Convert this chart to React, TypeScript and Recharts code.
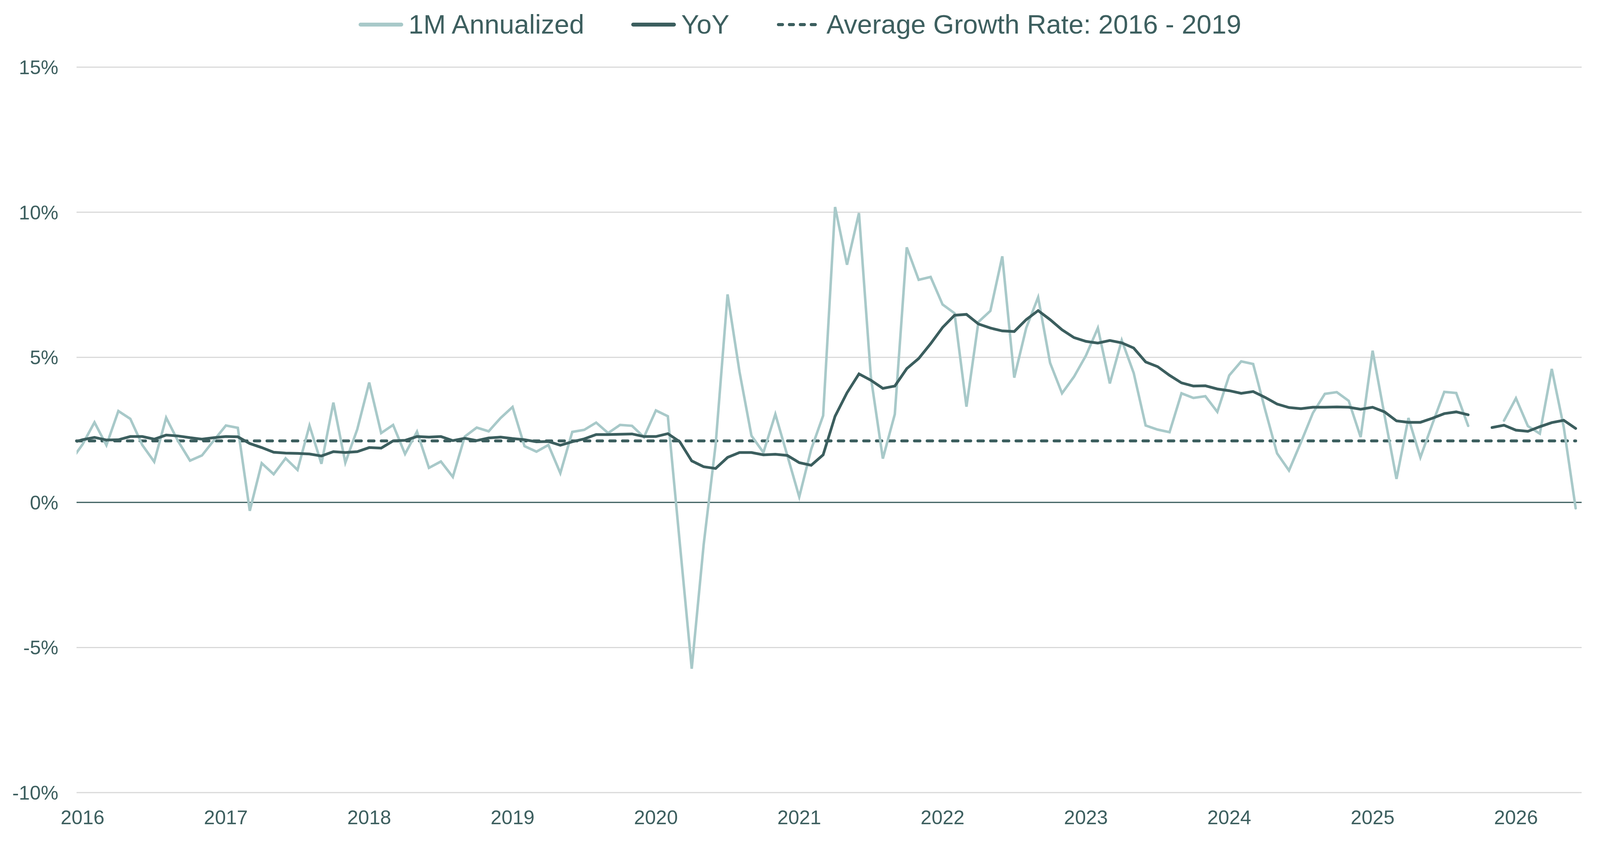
import React from "react";
import { LineChart, Line, XAxis, YAxis, CartesianGrid, ReferenceLine, Legend } from "recharts";

// Monthly series, Dec 2015 (index -1, clipped at the left edge) through Jun 2026 (index 125)
const firstIndex = -1;

const annualized1M: (number | null)[] = [
  1.42,
  2.0, 2.76, 1.97, 3.15, 2.88, 1.98, 1.4, 2.92, 2.11, 1.44, 1.62, 2.14,
  2.65, 2.57, -0.29, 1.35, 0.97, 1.52, 1.12, 2.65, 1.33, 3.44, 1.37, 2.52,
  4.13, 2.39, 2.67, 1.67, 2.44, 1.19, 1.41, 0.88, 2.27, 2.58, 2.45, 2.91,
  3.29, 1.94, 1.75, 1.98, 1.01, 2.43, 2.5, 2.75, 2.39, 2.67, 2.64, 2.25,
  3.17, 2.97, -1.4, -5.73, -1.45, 1.99, 7.17, 4.5, 2.3, 1.72, 3.04, 1.62,
  0.19, 1.83, 2.99, 10.18, 8.19, 9.97, 4.31, 1.51, 3.04, 8.79, 7.67, 7.77,
  6.82, 6.52, 3.3, 6.22, 6.6, 8.48, 4.3, 6.01, 7.07, 4.81, 3.76, 4.33,
  5.06, 6.01, 4.1, 5.59, 4.46, 2.65, 2.51, 2.42, 3.76, 3.6, 3.66, 3.12,
  4.38, 4.86, 4.77, 3.2, 1.69, 1.1, 2.07, 3.08, 3.74, 3.8, 3.5, 2.25,
  5.23, 3.0, 0.81, 2.91, 1.55, 2.7, 3.81, 3.77, 2.64, null, null, 2.82,
  3.59, 2.63, 2.37, 4.6, 2.6, -0.2,
];

const yoy: (number | null)[] = [
  2.04,
  2.16, 2.24, 2.15, 2.16, 2.27, 2.27, 2.18, 2.32, 2.29, 2.23, 2.18, 2.23,
  2.27, 2.26, 2.03, 1.89, 1.73, 1.7, 1.69, 1.67, 1.6, 1.75, 1.72, 1.75,
  1.89, 1.87, 2.12, 2.14, 2.27, 2.25, 2.27, 2.13, 2.21, 2.13, 2.22, 2.25,
  2.2, 2.16, 2.09, 2.1, 1.97, 2.09, 2.19, 2.34, 2.34, 2.35, 2.36, 2.27,
  2.27, 2.37, 2.09, 1.43, 1.23, 1.17, 1.55, 1.72, 1.72, 1.64, 1.66, 1.62,
  1.37, 1.28, 1.64, 2.97, 3.78, 4.43, 4.21, 3.93, 4.01, 4.61, 4.96, 5.47,
  6.03, 6.45, 6.48, 6.15, 6.01, 5.91, 5.89, 6.3, 6.61, 6.3, 5.95, 5.68,
  5.55, 5.49, 5.58, 5.5, 5.32, 4.84, 4.68, 4.38, 4.12, 4.01, 4.02, 3.91,
  3.85, 3.76, 3.82, 3.62, 3.39, 3.27, 3.23, 3.28, 3.28, 3.29, 3.28, 3.21,
  3.28, 3.12, 2.81, 2.76, 2.76, 2.9, 3.06, 3.12, 3.02, null, 2.58, 2.66,
  2.49, 2.45, 2.61, 2.75, 2.83, 2.55,
];

const avgGrowth = 2.12;

const yearTicks = [2016, 2017, 2018, 2019, 2020, 2021, 2022, 2023, 2024, 2025, 2026];
const yTicks = [-10, -5, 0, 5, 10, 15];

const LIGHT = "#a8c9c9";
const DARK = "#3b5e5e";
const TEXT = "#3d5f5f";
const FONT = "'Liberation Sans', Arial, sans-serif";

const chartData = annualized1M.map((v, k) => ({
  idx: firstIndex + k,
  m1: v,
  yoy: yoy[k],
}));

const legendItems = [
  { label: "1M Annualized", color: LIGHT, dash: undefined },
  { label: "YoY", color: DARK, dash: undefined },
  { label: "Average Growth Rate: 2016 - 2019", color: DARK, dash: "10 18" },
];

// the design is laid out for 4301 x 2154; fit it to the real viewport
const W = typeof window !== "undefined" ? window.innerWidth || 4301 : 4301;
const H = typeof window !== "undefined" ? window.innerHeight || 2154 : 2154;
const kx = W / 4301;
const ky = H / 2154;
const kf = Math.min(kx, ky);

const LegendContent = () => (
  <div
    style={{
      width: W,
      height: Math.round(172 * ky),
      display: "flex",
      justifyContent: "center",
      alignItems: "flex-start",
      paddingTop: Math.round(63 * ky - 40 * kf),
      boxSizing: "border-box",
      fontFamily: FONT,
      fontSize: 72 * kf,
      lineHeight: `${80 * kf}px`,
      color: TEXT,
    }}
  >
    {legendItems.map((item, k) => (
      <div key={k} style={{ display: "flex", alignItems: "center", marginLeft: k === 0 ? 0 : 127 * kx }}>
        <svg width={120 * kx} height={20} style={{ marginRight: 14 * kx }}>
          <line
            x1={5}
            y1={10}
            x2={120 * kx - 5}
            y2={10}
            stroke={item.color}
            strokeWidth={item.dash ? 8 : 10}
            strokeLinecap="round"
            strokeDasharray={item.dash}
          />
        </svg>
        <span>{item.label}</span>
      </div>
    ))}
  </div>
);

export default function App() {
  return (
    <div style={{ position: "absolute", left: 0, top: 0, background: "#fff", overflow: "hidden" }}>
      <LineChart
        width={W}
        height={H}
        data={chartData}
        margin={{ top: 0, right: Math.round(49 * kx), left: 0, bottom: 0 }}
      >
        <Legend verticalAlign="top" align="center" content={<LegendContent />} wrapperStyle={{ left: 0, top: 0 }} />
        <CartesianGrid vertical={false} stroke="#d9d9d9" strokeWidth={3} />
        <XAxis
          dataKey="idx"
          type="number"
          domain={[-0.5, 125.5]}
          allowDataOverflow
          ticks={yearTicks.map((y) => (y - 2016) * 12)}
          tickFormatter={(v: number) => String(2016 + v / 12)}
          axisLine={false}
          tickLine={false}
          tickSize={0}
          tickMargin={45 * ky}
          height={Math.round(124 * ky)}
          tick={{ fill: TEXT, fontSize: 53 * kf, fontFamily: FONT }}
          interval={0}
        />
        <YAxis
          type="number"
          domain={[-10, 15]}
          ticks={yTicks}
          tickFormatter={(v: number) => `${v}%`}
          axisLine={false}
          tickLine={false}
          tickSize={0}
          tickMargin={49 * kx}
          width={Math.round(206 * kx)}
          tick={{ fill: TEXT, fontSize: 53 * kf, fontFamily: FONT }}
          interval={0}
        />
        <ReferenceLine y={0} stroke={DARK} strokeWidth={3} />
        <ReferenceLine
          segment={[{ x: -0.5, y: avgGrowth }, { x: 125, y: avgGrowth }]}
          stroke={DARK}
          strokeWidth={7.5}
          strokeDasharray="14 18.5"
          strokeLinecap="round"
        />
        <Line
          type="linear"
          dataKey="m1"
          stroke={LIGHT}
          strokeWidth={6.5}
          strokeLinecap="round"
          dot={false}
          activeDot={false}
          isAnimationActive={false}
        />
        <Line
          type="linear"
          dataKey="yoy"
          stroke={DARK}
          strokeWidth={7}
          strokeLinecap="round"
          dot={false}
          activeDot={false}
          isAnimationActive={false}
        />
      </LineChart>
    </div>
  );
}
